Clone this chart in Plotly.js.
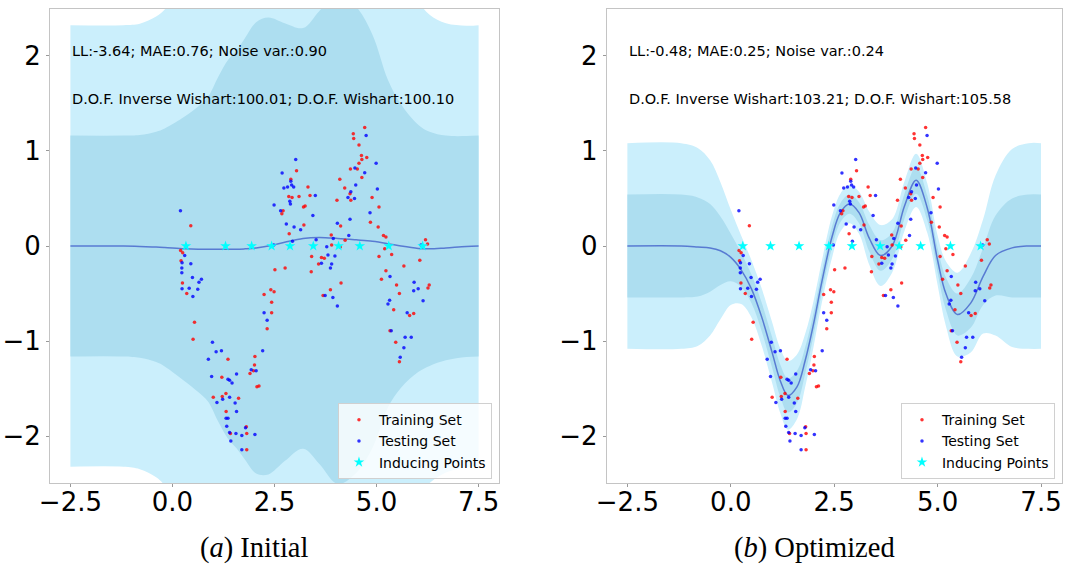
<!DOCTYPE html>
<html>
<head>
<meta charset="utf-8">
<script src="https://cdn.plot.ly/plotly-3.0.1.min.js"></script>
<style>html,body{margin:0;padding:0;background:#fff;}#chart{width:1073px;height:565px;}</style>
</head>
<body>
<div id="chart"></div>
<script>
// ---------------- data ----------------
const trainX = [0.449,2.90,2.85,2.93,2.71,2.68,2.86,
  4.71,4.43,4.44,4.57,4.63,4.64,4.76,4.57,4.36,4.53,4.64,3.04,4.10,4.22,4.35,4.37,4.03,4.89,5.06,4.85,5.04,4.12,3.89,5.17,5.23,3.32,3.10,3.37,3.25,3.21,3.22,
  4.23,6.20,6.25,3.90,4.11,5.20,5.37,5.06,3.41,3.65,3.72,6.06,5.67,3.58,3.40,5.23,5.12,4.13,6.29,5.49,6.26,5.56,3.87,3.69,5.42,5.81,5.91,5.33,5.47,
  0.20,0.25,0.21,0.245,0.35,0.54,0.505,2.51,2.76,2.41,2.49,2.245,2.43,2.43,2.32,
  1.36,2.02,2.01,1.985,1.90,1.21,2.07,2.12,1.31,1.00,1.22,1.62,1.315,1.81,1.42,1.82,1.82,5.56];
const trainY = [0.213,0.70,0.52,0.51,0.37,0.34,0.13,
  1.246,1.18,1.13,1.06,0.95,0.91,0.93,0.87,0.81,0.81,0.72,0.79,0.70,0.61,0.55,0.48,0.48,0.51,0.41,0.25,0.20,0.21,0.115,0.11,0.095,0.62,0.52,0.53,0.42,0.41,0.22,
  0.06,0.066,0.02,0.01,-0.01,-0.03,-0.09,-0.11,-0.11,-0.12,-0.13,-0.15,-0.21,-0.19,-0.27,-0.26,-0.35,-0.39,-0.41,-0.41,-0.44,-0.50,-0.46,-0.52,-0.67,-0.73,-0.71,-0.89,-1.01,
  -0.046,-0.07,-0.155,-0.39,-0.50,-0.80,-0.98,-0.25,-0.23,-0.46,-0.48,-0.51,-0.59,-0.70,-0.87,
  -1.19,-1.16,-1.25,-1.31,-1.34,-1.38,-1.48,-1.47,-1.55,-1.59,-1.58,-1.60,-1.74,-1.90,-1.97,-1.97,-2.14,-1.215];

const testX = [0.196,2.687,2.90,2.92,2.97,2.82,2.73,2.875,2.89,2.49,2.65,2.79,2.98,
  4.745,4.99,4.47,4.71,3.02,4.49,5.02,4.37,4.30,4.46,4.84,4.35,4.04,4.32,3.94,3.50,3.44,3.14,
  2.94,2.48,3.52,6.09,3.78,3.81,3.98,3.65,3.90,3.87,5.33,5.92,6.02,5.91,3.74,3.93,6.14,5.32,5.28,4.04,5.75,5.36,5.70,5.85,5.67,
  0.30,0.235,0.45,0.23,0.23,0.49,0.71,0.65,0.235,0.41,0.62,0.50,0.98,2.245,2.32,
  2.21,1.07,1.20,0.88,1.93,2.05,1.57,0.96,1.36,1.40,1.46,1.40,1.23,1.09,1.535,1.57,1.315,1.36,1.33,1.79,1.40,1.555,1.70,2.02,1.43,1.70,5.58];
const testY = [0.371,0.767,0.68,0.64,0.62,0.62,0.61,0.47,0.44,0.43,0.37,0.23,0.20,
  1.16,0.87,0.82,0.77,0.91,0.64,0.60,0.57,0.51,0.50,0.35,0.28,0.24,0.11,0.08,0.53,0.32,0.17,
  0.05,0.01,0.066,0.01,-0.007,-0.095,-0.105,-0.18,-0.19,-0.23,-0.32,-0.38,-0.45,-0.47,-0.52,-0.54,-0.575,-0.57,-0.61,-0.63,-0.70,-0.89,-0.96,-0.96,-1.07,
  -0.10,-0.175,-0.186,-0.23,-0.28,-0.33,-0.35,-0.38,-0.45,-0.445,-0.455,-0.53,-1.01,-0.70,-0.78,
  -1.10,-1.11,-1.10,-1.19,-1.30,-1.31,-1.345,-1.37,-1.40,-1.41,-1.44,-1.59,-1.61,-1.645,-1.65,-1.74,-1.81,-1.81,-1.895,-1.91,-1.96,-1.97,-1.99,-1.98,-2.05,-2.14,-1.17];

// inducing points
const indInitX = [0.33,1.30,1.94,2.43,2.88,3.45,4.07,4.59,5.30,6.13];
const indInitY = [0,0,0,0,0,0,0,0,0,0];
const indOptX  = [0.29,0.96,1.65,2.37,2.93,3.61,4.07,4.59,5.31,6.04];
const indOptY  = [0,0,0,0,0,0,0,0,0,0];

// predictive mean and std, initial model
const gridInit = [-2.5,-1.2,-0.8,-0.4,-0.19,0.3,0.63,0.87,1.12,1.36,1.57,1.77,2.05,2.35,2.75,3.2,3.6,4.05,4.5,4.9,5.28,5.6,6.02,6.3,6.7,7.2,7.5];
const meanInit = [0,0,-0.005,-0.01,-0.015,-0.03,-0.035,-0.035,-0.035,-0.035,-0.035,-0.03,-0.02,0.0,0.04,0.08,0.09,0.08,0.065,0.05,0.025,0.0,-0.025,-0.03,-0.02,-0.005,0];
const sdInit   = [1.16,1.16,1.17,1.21,1.25,1.39,1.50,1.60,1.81,1.99,2.09,2.21,2.37,2.40,2.30,2.21,2.38,2.58,2.45,2.17,1.72,1.49,1.30,1.23,1.18,1.16,1.16];

// predictive mean and std, optimized model
const gridOpt = [-2.5,-1.2,-0.8,-0.5,-0.25,0.0,0.25,0.5,0.75,1.0,1.2,1.38,1.6,1.8,2.0,2.2,2.45,2.65,2.87,3.1,3.35,3.62,3.9,4.2,4.48,4.75,5.0,5.2,5.48,5.8,6.1,6.4,6.8,7.2,7.5];
const meanOpt = [0,0,-0.01,-0.02,-0.05,-0.12,-0.25,-0.45,-0.75,-1.12,-1.42,-1.57,-1.48,-1.2,-0.82,-0.38,0.1,0.35,0.44,0.35,0.08,-0.1,0.0,0.42,0.69,0.4,-0.15,-0.5,-0.72,-0.6,-0.32,-0.1,-0.02,0,0];
const sdOpt   = [0.54,0.54,0.52,0.46,0.36,0.25,0.18,0.15,0.15,0.16,0.17,0.18,0.17,0.14,0.12,0.11,0.11,0.1,0.1,0.11,0.14,0.16,0.14,0.13,0.14,0.13,0.13,0.17,0.22,0.26,0.3,0.42,0.52,0.54,0.54];

const texts = {
  init: ['LL:-3.64; MAE:0.76; Noise var.:0.90', 'D.O.F. Inverse Wishart:100.01; D.O.F. Wishart:100.10'],
  opt:  ['LL:-0.48; MAE:0.25; Noise var.:0.24', 'D.O.F. Inverse Wishart:103.21; D.O.F. Wishart:105.58']
};
const captions = ['(<i>a</i>) Initial', '(<i>b</i>) Optimized'];
const legendNames = ['Training Set', 'Testing Set', 'Inducing Points'];

// ---------------- styling ----------------
const LIGHT = '#cbeffc';
const DARK  = '#addef0';
const LINE  = 'rgba(60,90,200,0.75)';

function band(grid, mean, sd, k, color, xa, ya) {
  const lo = mean.map((m, i) => m - k * sd[i]);
  const hi = mean.map((m, i) => m + k * sd[i]);
  return [
    {x: grid, y: lo, xaxis: xa, yaxis: ya, mode: 'lines', line: {width: 0, shape: 'spline', smoothing: 1}, showlegend: false, hoverinfo: 'skip'},
    {x: grid, y: hi, xaxis: xa, yaxis: ya, mode: 'lines', line: {width: 0, shape: 'spline', smoothing: 1}, fill: 'tonexty', fillcolor: color, showlegend: false, hoverinfo: 'skip'}
  ];
}

function panel(grid, mean, sd, indX, indY, xa, ya, leg) {
  return [
    ...band(grid, mean, sd, 2, LIGHT, xa, ya),
    ...band(grid, mean, sd, 1, DARK, xa, ya),
    {x: grid, y: mean, xaxis: xa, yaxis: ya, mode: 'lines', line: {color: LINE, width: 1.5, shape: 'spline', smoothing: 1}, showlegend: false},
    {x: trainX, y: trainY, xaxis: xa, yaxis: ya, mode: 'markers', name: legendNames[0], legend: leg,
     marker: {color: 'rgba(255,0,0,0.8)', size: 3.5}},
    {x: testX, y: testY, xaxis: xa, yaxis: ya, mode: 'markers', name: legendNames[1], legend: leg,
     marker: {color: 'rgba(0,0,255,0.8)', size: 3.5}},
    {x: indX, y: indY, xaxis: xa, yaxis: ya, mode: 'markers', name: legendNames[2], legend: leg,
     marker: {color: '#00ffff', size: 8, symbol: 'star'}}
  ];
}

const data = [
  ...panel(gridInit, meanInit, sdInit, indInitX, indInitY, 'x', 'y', 'legend'),
  ...panel(gridOpt, meanOpt, sdOpt, indOptX, indOptY, 'x2', 'y2', 'legend2')
];

const tickFont = {family: 'DejaVu Sans', size: 26, color: '#000'};
function xax(dom, anchor) {
  return {domain: dom, anchor: anchor, range: [-3, 8], tickvals: [-2.5, 0, 2.5, 5, 7.5],
    ticktext: ['\u22122.5', '0.0', '2.5', '5.0', '7.5'], tickfont: tickFont,
    showgrid: false, zeroline: false, showline: true, mirror: true, linecolor: '#c4c4c4', linewidth: 1,
    ticks: 'outside', ticklen: 3, tickcolor: '#999', ticklabelstandoff: -7, automargin: false, fixedrange: true};
}
function yax(anchor) {
  return {domain: [0.14513, 0.98407], anchor: anchor, range: [-2.49, 2.49], tickvals: [-2, -1, 0, 1, 2],
    ticktext: ['\u22122', '\u22121', '0', '1', '2'], tickfont: tickFont,
    showgrid: false, zeroline: false, showline: true, mirror: true, linecolor: '#c4c4c4', linewidth: 1,
    ticks: 'outside', ticklen: 3, tickcolor: '#999', automargin: false, fixedrange: true};
}

const annFont = {family: 'DejaVu Sans', size: 14.5, color: '#000'};
const annotations = [];
[['x', 'y', texts.init], ['x2', 'y2', texts.opt]].forEach(([xr, yr, t]) => {
  annotations.push({xref: xr, yref: yr, x: -2.5, y: 2.05, text: t[0], showarrow: false, xanchor: 'left', yanchor: 'middle', font: annFont});
  annotations.push({xref: xr, yref: yr, x: -2.5, y: 1.545, text: t[1], showarrow: false, xanchor: 'left', yanchor: 'middle', font: annFont});
});
const capFont = {family: 'Liberation Serif', size: 28.5, color: '#000'};
annotations.push({xref: 'paper', yref: 'paper', x: 254 / 1073, y: (565 - 548) / 565, text: captions[0], showarrow: false, xanchor: 'center', yanchor: 'middle', font: capFont});
annotations.push({xref: 'paper', yref: 'paper', x: 814 / 1073, y: (565 - 548) / 565, text: captions[1], showarrow: false, xanchor: 'center', yanchor: 'middle', font: capFont});
annotations.push({xref: 'paper', yref: 'paper', x: 274.5 / 1073, y: (565 - 516) / 565, text: '.', showarrow: false, font: {size: 6, color: '#777'}});
annotations.push({xref: 'paper', yref: 'paper', x: 834 / 1073, y: (565 - 516) / 565, text: '.', showarrow: false, font: {size: 6, color: '#777'}});

const legFont = {family: 'DejaVu Sans', size: 14, color: '#000'};
const legBase = {y: 0.152, xanchor: 'right', yanchor: 'bottom', traceorder: 'normal', bgcolor: 'rgba(255,255,255,0.8)', bordercolor: '#d0d0d0', borderwidth: 1, font: legFont};
const layout = {
  width: 1073, height: 565,
  margin: {l: 0, r: 0, t: 0, b: 0},
  paper_bgcolor: '#fff', plot_bgcolor: '#fff',
  xaxis: xax([0.04660, 0.46505], 'y'),
  yaxis: yax('x'),
  xaxis2: xax([0.56542, 0.98947], 'y2'),
  yaxis2: yax('x2'),
  legend: Object.assign({x: 0.4585}, legBase),
  legend2: Object.assign({x: 0.9832}, legBase),
  annotations: annotations,
  showlegend: true
};

Plotly.newPlot('chart', data, layout, {displayModeBar: false, staticPlot: true});
</script>
</body>
</html>
